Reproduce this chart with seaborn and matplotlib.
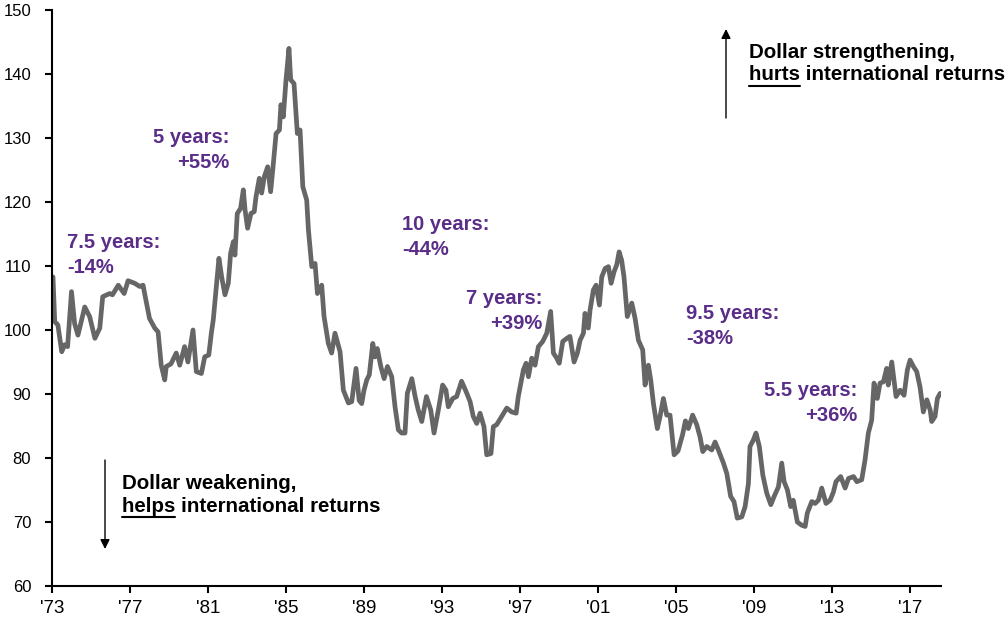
import matplotlib
matplotlib.use("Agg")
import matplotlib.pyplot as plt
from matplotlib.lines import Line2D
from matplotlib.patches import FancyArrowPatch
import seaborn as sns
import pandas as pd

# ---- data ----
years = [
    1973.05, 1973.14, 1973.30, 1973.50, 1973.65, 1973.80, 1974.00, 1974.16, 1974.33, 1974.68,
    1974.93, 1975.20, 1975.45, 1975.60, 1975.96, 1976.10, 1976.40, 1976.70, 1976.90, 1977.24,
    1977.50, 1977.67, 1977.75, 1978.00, 1978.27, 1978.44, 1978.60, 1978.78, 1978.86, 1979.10,
    1979.37, 1979.55, 1979.80, 1979.97, 1980.23, 1980.40, 1980.66, 1980.83, 1981.04, 1981.17,
    1981.27, 1981.56, 1981.70, 1981.87, 1982.04, 1982.16, 1982.30, 1982.38, 1982.50, 1982.67,
    1982.81, 1982.90, 1983.03, 1983.20, 1983.37, 1983.46, 1983.63, 1983.75, 1983.89, 1984.06,
    1984.21, 1984.35, 1984.49, 1984.66, 1984.74, 1984.86, 1985.00, 1985.15, 1985.24, 1985.41,
    1985.58, 1985.72, 1985.86, 1986.06, 1986.15, 1986.32, 1986.49, 1986.61, 1986.83, 1986.95,
    1987.17, 1987.34, 1987.51, 1987.77, 1987.94, 1988.20, 1988.37, 1988.59, 1988.75, 1988.88,
    1989.00, 1989.14, 1989.27, 1989.45, 1989.56, 1989.68, 1989.86, 1990.03, 1990.20, 1990.42,
    1990.59, 1990.76, 1990.93, 1991.10, 1991.22, 1991.45, 1991.62, 1991.78, 1991.96, 1992.20,
    1992.42, 1992.59, 1992.81, 1993.03, 1993.20, 1993.32, 1993.55, 1993.75, 1994.00, 1994.23,
    1994.44, 1994.60, 1994.78, 1994.95, 1995.15, 1995.29, 1995.51, 1995.63, 1995.80, 1996.06,
    1996.32, 1996.57, 1996.80, 1996.91, 1997.17, 1997.31, 1997.43, 1997.60, 1997.77, 1997.94,
    1998.16, 1998.37, 1998.57, 1998.71, 1998.88, 1999.01, 1999.19, 1999.40, 1999.56, 1999.77,
    1999.94, 2000.08, 2000.25, 2000.33, 2000.50, 2000.59, 2000.76, 2000.90, 2001.07, 2001.19,
    2001.36, 2001.53, 2001.67, 2001.82, 2001.96, 2002.08, 2002.21, 2002.33, 2002.50, 2002.73,
    2002.90, 2003.07, 2003.29, 2003.41, 2003.58, 2003.70, 2003.84, 2004.04, 2004.18, 2004.35,
    2004.52, 2004.69, 2004.90, 2005.10, 2005.33, 2005.48, 2005.63, 2005.85, 2006.06, 2006.23,
    2006.37, 2006.57, 2006.83, 2007.00, 2007.17, 2007.43, 2007.60, 2007.80, 2007.97, 2008.14,
    2008.37, 2008.54, 2008.71, 2008.79, 2008.96, 2009.10, 2009.27, 2009.45, 2009.65, 2009.86,
    2010.03, 2010.25, 2010.42, 2010.54, 2010.71, 2010.88, 2011.01, 2011.22, 2011.44, 2011.62,
    2011.73, 2011.96, 2012.13, 2012.30, 2012.47, 2012.69, 2012.90, 2013.07, 2013.20, 2013.44,
    2013.67, 2013.84, 2014.10, 2014.27, 2014.52, 2014.69, 2014.86, 2015.03, 2015.15, 2015.32,
    2015.46, 2015.63, 2015.80, 2015.88, 2016.06, 2016.28, 2016.49, 2016.69, 2016.86, 2017.00,
    2017.17, 2017.34, 2017.51, 2017.68, 2017.86, 2018.03, 2018.11, 2018.28, 2018.40, 2018.54,
]
index_values = [
    108.3, 101.3, 100.8, 96.6, 97.7, 97.4, 106.0, 101.0, 99.2, 103.6,
    102.1, 98.7, 100.3, 105.2, 105.7, 105.5, 107.0, 105.7, 107.7, 107.3,
    106.8, 107.0, 105.7, 101.8, 100.3, 99.7, 94.5, 92.2, 94.3, 94.7,
    96.4, 94.5, 97.4, 95.0, 100.0, 93.5, 93.2, 95.8, 96.1, 99.5,
    101.6, 111.2, 108.3, 105.5, 107.3, 112.0, 113.8, 111.7, 118.2, 119.0,
    121.9, 118.75, 115.9, 118.2, 118.5, 120.8, 123.7, 121.4, 124.0, 125.5,
    121.6, 126.0, 130.7, 131.25, 135.2, 133.3, 139.1, 144.0, 139.1, 138.5,
    130.7, 131.25, 122.4, 120.3, 115.6, 109.9, 110.4, 105.7, 107.0, 102.1,
    97.9, 96.4, 99.5, 96.6, 90.6, 88.6, 88.8, 94.0, 89.0, 88.5,
    90.6, 92.2, 93.0, 97.9, 95.8, 97.1, 94.3, 92.4, 94.3, 92.7,
    88.0, 84.4, 83.9, 83.9, 90.1, 92.4, 89.6, 87.5, 85.7, 89.6,
    87.5, 83.9, 87.5, 91.4, 90.6, 88.0, 89.3, 89.6, 92.0, 90.4,
    88.8, 86.5, 85.4, 87.0, 84.9, 80.5, 80.7, 84.9, 85.2, 86.5,
    87.8, 87.2, 87.0, 89.6, 93.75, 94.8, 92.7, 95.6, 94.5, 97.4,
    98.2, 99.5, 102.9, 96.4, 95.6, 94.8, 98.2, 98.7, 99.0, 95.0,
    96.4, 98.4, 99.5, 102.6, 100.3, 103.1, 106.25, 107.0, 103.9, 108.3,
    109.6, 109.9, 107.3, 109.1, 110.2, 112.2, 110.9, 108.3, 102.1, 104.2,
    101.8, 98.4, 96.9, 91.4, 94.5, 92.2, 88.5, 84.6, 86.5, 89.3,
    86.7, 86.7, 80.5, 81.1, 83.6, 85.8, 84.6, 86.7, 85.2, 83.3,
    81.0, 81.8, 81.25, 82.5, 81.25, 79.2, 77.6, 74.0, 73.2, 70.6,
    70.8, 72.4, 76.0, 81.8, 82.8, 83.9, 81.8, 77.3, 74.5, 72.7,
    74.0, 75.5, 79.2, 76.3, 75.0, 72.4, 73.4, 70.0, 69.5, 69.3,
    71.4, 73.2, 72.9, 73.4, 75.3, 72.9, 73.4, 74.7, 76.3, 77.1,
    75.3, 76.8, 77.1, 76.3, 76.6, 79.7, 83.9, 85.9, 91.7, 89.3,
    91.7, 91.9, 94.0, 91.4, 95.0, 89.6, 90.6, 89.8, 93.75, 95.3,
    94.3, 93.5, 91.1, 87.2, 89.1, 87.5, 85.7, 86.5, 89.3, 90.1,
]
tick_years = [1973, 1977, 1981, 1985, 1989, 1993, 1997, 2001, 2005, 2009, 2013, 2017]
tick_labels = ["'73", "'77", "'81", "'85", "'89", "'93", "'97", "'01", "'05", "'09", "'13", "'17"]
y_ticks = [60, 70, 80, 90, 100, 110, 120, 130, 140, 150]
period_labels = ["7.5 years:", "5 years:", "10 years:", "7 years:", "9.5 years:", "5.5 years:"]
change_labels = ["-14%", "+55%", "-44%", "+39%", "-38%", "+36%"]

# ---- styling ----
sns.set_style("ticks")
plt.rcParams['font.family'] = ['Liberation Sans', 'DejaVu Sans']

W, H = 1007, 617
fig = plt.figure(figsize=(W / 100, H / 100), dpi=100)
ax = fig.add_axes([52 / W, 31 / H, (940.7 - 52) / W, 576 / H])

df = pd.DataFrame({"year": years, "value": index_values})
sns.lineplot(data=df, x="year", y="value", ax=ax, color="#666666", linewidth=3.4,
             solid_joinstyle="round", solid_capstyle="round")

ax.set_xlim(1973, 2018.57)
ax.set_ylim(60, 150)
ax.set_xticks(tick_years)
ax.set_xticklabels(tick_labels)
ax.set_yticks(y_ticks)
ax.set_xlabel("")
ax.set_ylabel("")
sns.despine(ax=ax)
for s in ("left", "bottom"):
    ax.spines[s].set_linewidth(1.5)
    ax.spines[s].set_color("black")
ax.tick_params(axis="both", length=5, width=1.5, color="black", labelcolor="black")
ax.tick_params(axis="x", labelsize=13.5, pad=5)
ax.tick_params(axis="y", labelsize=12, pad=10)


def fp(x, y):
    """figure-pixel (top-left origin) to figure fraction"""
    return x / W, 1 - y / H


purple = "#5A2D88"
fs = 14.5
fs_black = 14.8
# (x, baseline line1, baseline line2, ha)
label_pos = [
    (67, 248, 273, "left"),
    (229.5, 142.5, 168, "right"),
    (402, 230, 255, "left"),
    (542.5, 304.5, 329, "right"),
    (686, 319, 344, "left"),
    (857.5, 396, 421, "right"),
]
for (x, b1, b2, ha), p, c in zip(label_pos, period_labels, change_labels):
    fig.text(*fp(x, b1), p, ha=ha, va="baseline", color=purple, fontsize=fs, fontweight="bold")
    fig.text(*fp(x, b2), c, ha=ha, va="baseline", color=purple, fontsize=fs, fontweight="bold")

# black annotations
fig.text(*fp(749, 57.5), "Dollar strengthening,", ha="left", va="baseline",
         fontsize=fs_black, fontweight="bold", color="black")
fig.text(*fp(749, 80.5), "hurts international returns", ha="left", va="baseline",
         fontsize=fs_black, fontweight="bold", color="black")
h1 = fig.text(*fp(749, 80.5), "hurts", ha="left", va="baseline",
              fontsize=fs_black, fontweight="bold", color="none")
fig.text(*fp(122, 489), "Dollar weakening,", ha="left", va="baseline",
         fontsize=fs_black, fontweight="bold", color="black")
fig.text(*fp(122, 512), "helps international returns", ha="left", va="baseline",
         fontsize=fs_black, fontweight="bold", color="black")
h2 = fig.text(*fp(122, 512), "helps", ha="left", va="baseline",
              fontsize=fs_black, fontweight="bold", color="none")

fig.canvas.draw()
r = fig.canvas.get_renderer()
for t, base in ((h1, 80.5), (h2, 512)):
    bb = t.get_window_extent(renderer=r)
    yl = base + 5
    fig.add_artist(Line2D([bb.x0 / W, bb.x1 / W], [1 - yl / H, 1 - yl / H],
                          transform=fig.transFigure, color="black", linewidth=1.5))

# arrows
fig.add_artist(FancyArrowPatch(
    fp(726, 118), fp(726, 29), transform=fig.transFigure, arrowstyle="-|>",
    mutation_scale=14, color="black", linewidth=1.0, shrinkA=0, shrinkB=0))
fig.add_artist(FancyArrowPatch(
    fp(105, 460), fp(105, 549), transform=fig.transFigure, arrowstyle="-|>",
    mutation_scale=14, color="black", linewidth=1.0, shrinkA=0, shrinkB=0))

fig.savefig("out.png", dpi=100)
